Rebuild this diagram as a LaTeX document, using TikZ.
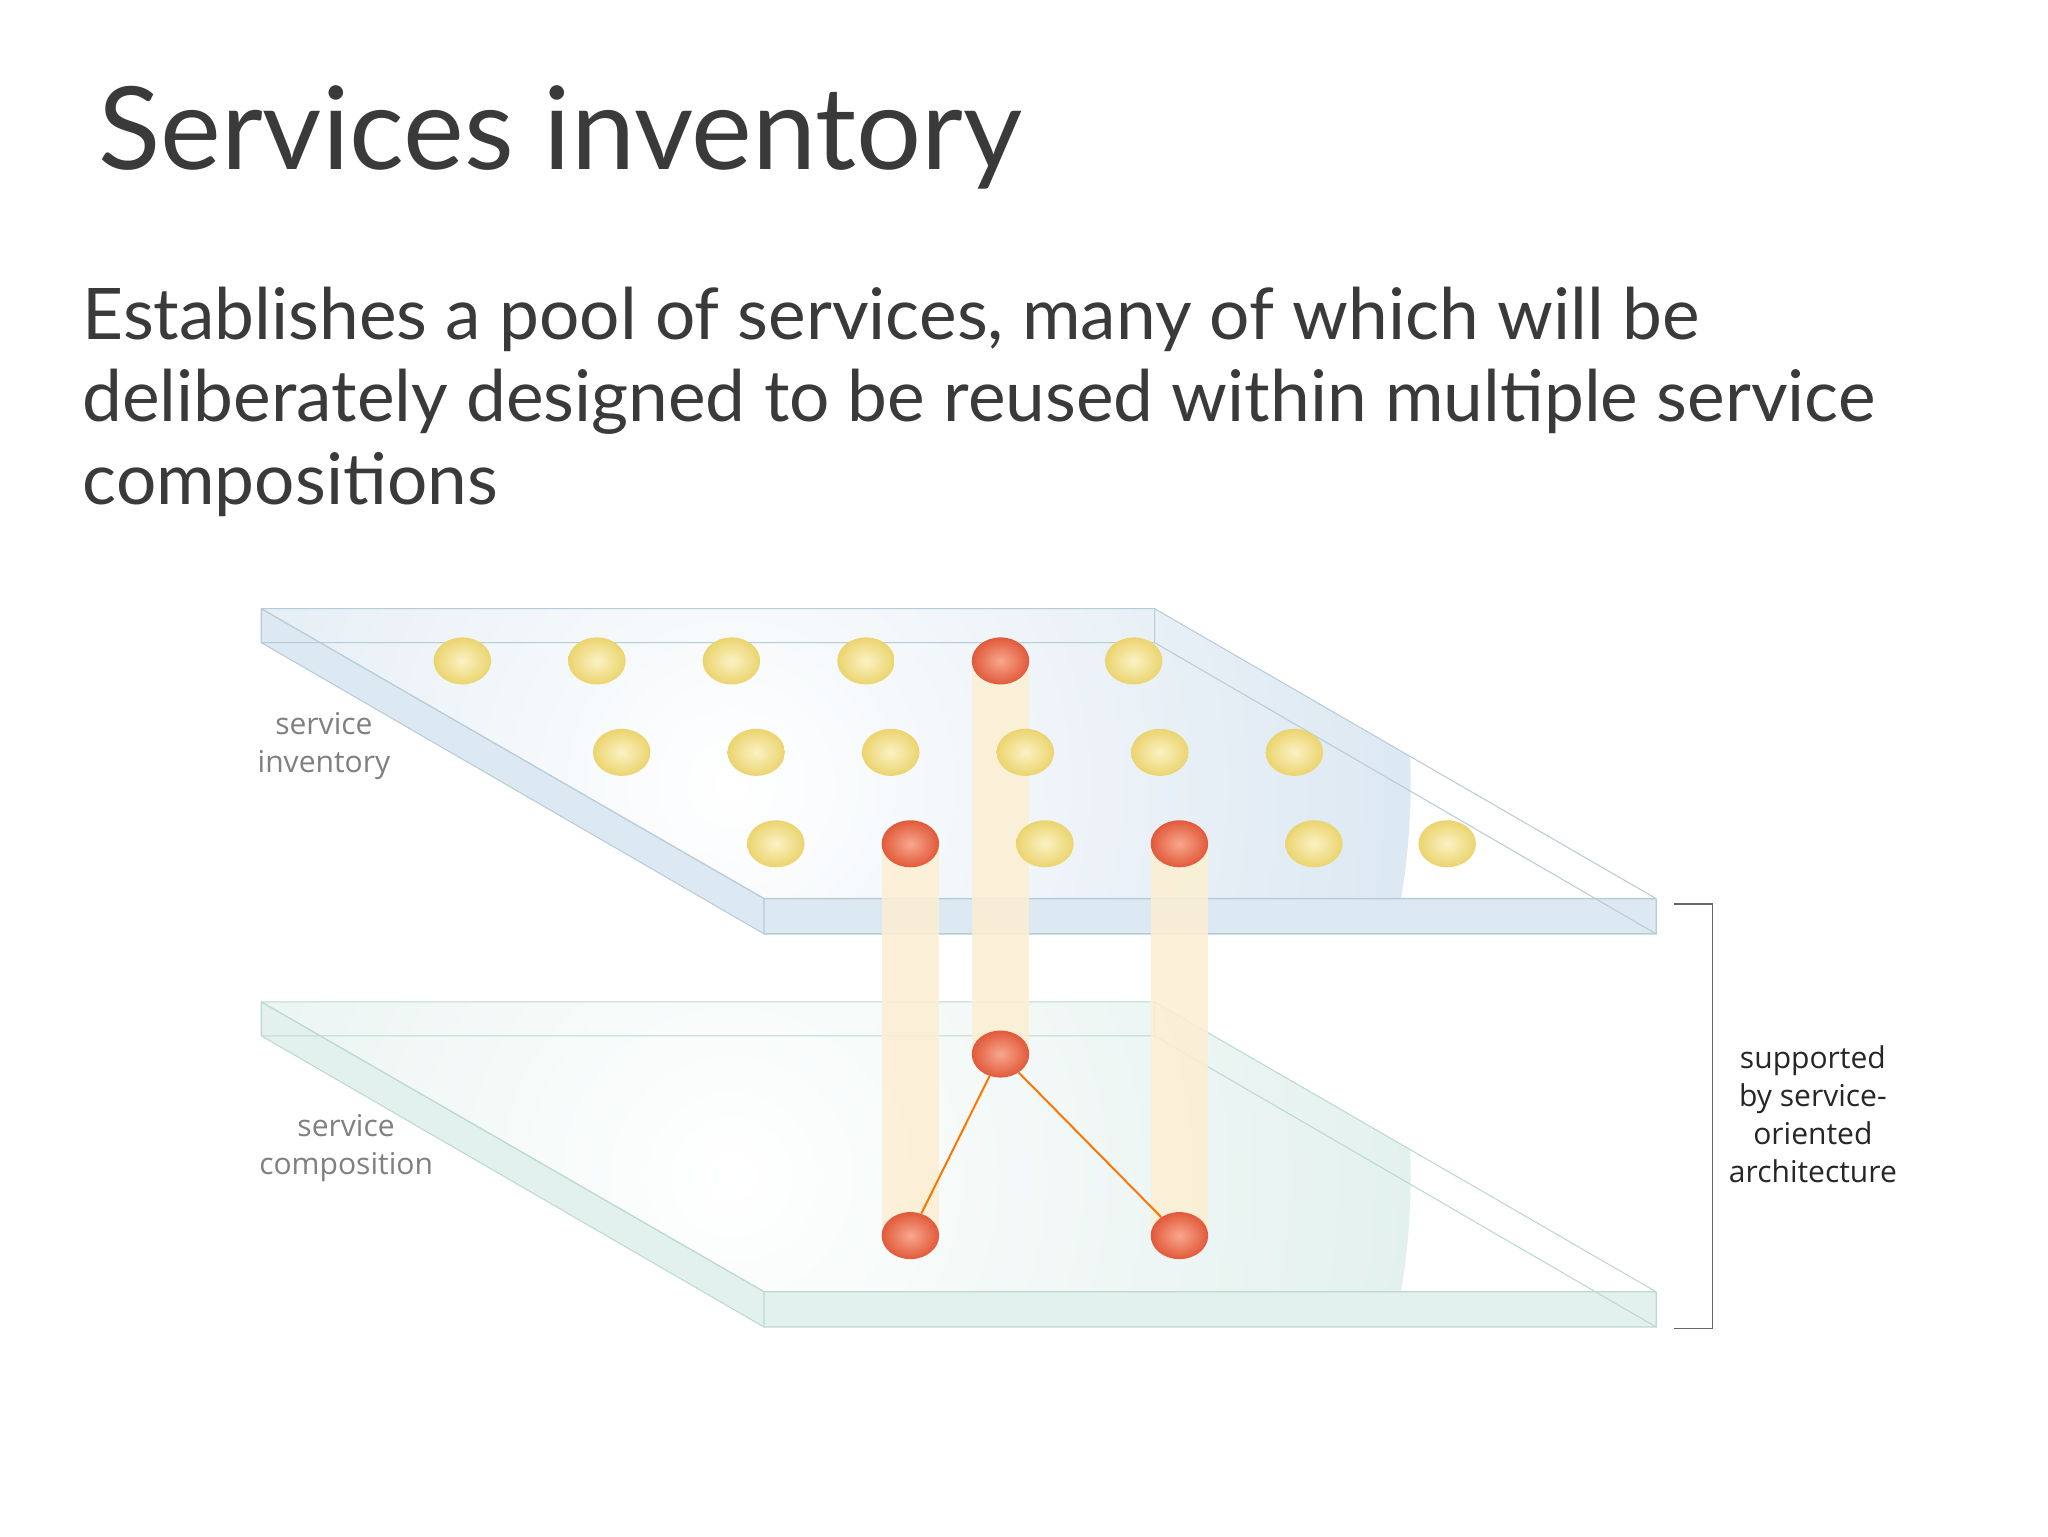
\documentclass[tikz,border=0pt]{standalone}
\usetikzlibrary{shapes.geometric}
\usepackage{fontspec}
\setmainfont{Lato}
\newfontfamily\lblfont{Open Sans}
\definecolor{txt}{HTML}{3A3A3A}
\definecolor{plateA}{HTML}{DCE8F2}
\definecolor{plateB}{HTML}{E3F1EE}
\definecolor{edgeA}{HTML}{B8CCD8}
\definecolor{edgeB}{HTML}{BCD8D2}
\definecolor{ylw}{HTML}{EBD46E}
\definecolor{ylwL}{HTML}{FBF2C4}
\definecolor{rd}{HTML}{E2593A}
\definecolor{rdL}{HTML}{F7A88E}
\definecolor{col}{HTML}{FCEFD2}
\begin{document}
\begin{tikzpicture}[x=1pt,y=-1pt,
  yb/.style={inner color=ylwL,outer color=ylw,draw=none},
  rb/.style={inner color=rdL,outer color=rd,draw=none,ellipse,minimum width=44,minimum height=36,inner sep=0},
  lbl/.style={font=\lblfont\fontsize{23}{29}\selectfont,align=center},
  body/.style={anchor=base west,inner sep=0,font=\fontsize{54.5}{60}\selectfont,text=txt}]
\useasboundingbox[fill=white] (0,0) rectangle (1568,1176);
\node[anchor=base west,inner sep=0,font=\fontsize{88}{100}\selectfont,text=txt] (title) at (75,130) {Services inventory};
\node[body] (l1) at (63,260) {Establishes a pool of services, many of which will be};
\node[body] (l2) at (63,323) {deliberately designed to be reused within multiple service};
\node[body] (l3) at (63,386) {compositions};
% plates
\foreach \dy/\pc/\ec in {0/plateA/edgeA,301/plateB/edgeB}{
  \begin{scope}
  \clip (200,466+\dy) -- (884,466+\dy) -- (1268,688+\dy) -- (585,688+\dy) -- cycle;
  \shade[inner color=white,outer color=\pc] (560,600+\dy) circle (520);
  \end{scope}
  \fill[\pc] (200,466+\dy) -- (585,688+\dy) -- (585,715+\dy) -- (200,492+\dy) -- cycle;
  \fill[\pc] (585,688+\dy) rectangle (1268,715+\dy);
  \draw[\ec,line width=1] (200,466+\dy) -- (585,688+\dy) -- (1268,688+\dy) (585,688+\dy) -- (585,715+\dy) -- (1268,715+\dy) -- (1268,688+\dy);
  \draw[\ec,line width=0.8] (200,466+\dy) -- (200,492+\dy) -- (585,715+\dy) (200,492+\dy) -- (884,492+\dy) -- (1268,715+\dy) (884,466+\dy) -- (884,492+\dy) (200,466+\dy) -- (884,466+\dy) -- (1268,688+\dy);
}
% columns
\fill[col,opacity=0.85] (675,646) rectangle (719,946);
\fill[col,opacity=0.85] (744,506) rectangle (788,807);
\fill[col,opacity=0.85] (881,646) rectangle (925,946);
% balls
\foreach \x in {354,457,560,663,868} \shade[yb] (\x,506) ellipse (22 and 18);
\node[rb] (r0) at (766,506) {};
\foreach \x in {476,579,682,785,888,991} \shade[yb] (\x,576) ellipse (22 and 18);
\foreach \x in {594,800,1006,1108} \shade[yb] (\x,646) ellipse (22 and 18);
\node[rb] (r1) at (697,646) {};
\node[rb] (r2) at (903,646) {};
\node[rb] (c0) at (766,807) {};
\node[rb] (c1) at (697,946) {};
\node[rb] (c2) at (903,946) {};
\draw[orange!90!red,line width=1.5] (c0) -- (c1) (c0) -- (c2);
% labels
\node[lbl,text=gray] (inv) at (248,571) {service\\inventory};
\node[lbl,text=gray] (comp) at (265,879) {service\\composition};
\draw[gray!80!black,line width=1.2] (1282,692) -- (1311,692) -- (1311,1017) -- (1282,1017);
\node[lbl,text=black!85] (soa) at (1388,853) {supported\\by service-\\oriented\\architecture};
\end{tikzpicture}
\end{document}
